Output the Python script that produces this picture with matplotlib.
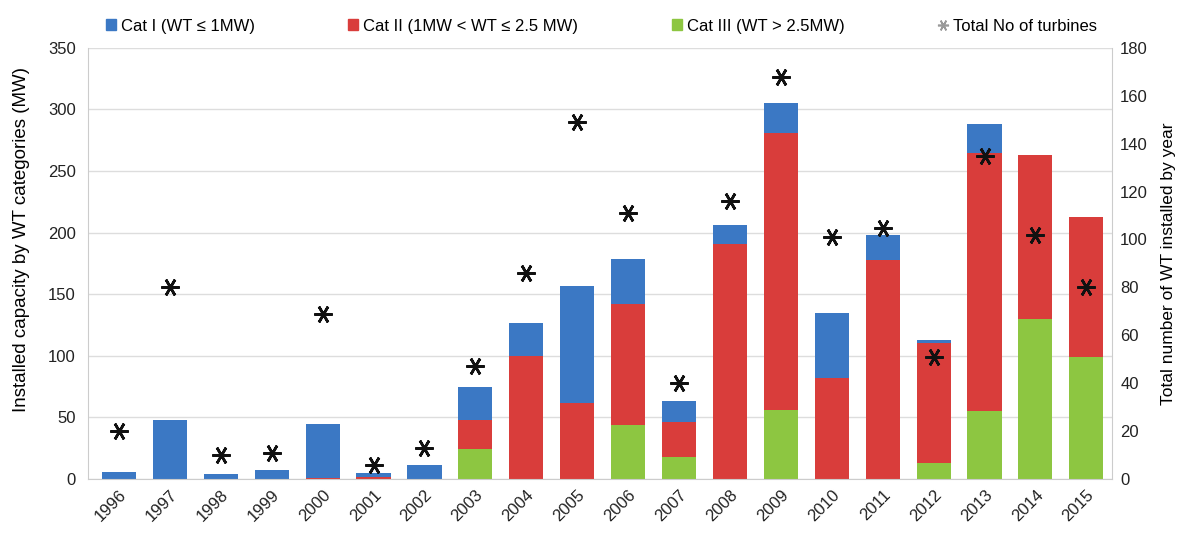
import matplotlib.pyplot as plt
import numpy as np
from matplotlib.patches import Patch
from matplotlib.lines import Line2D

plt.rcParams['font.family'] = ['Liberation Sans', 'DejaVu Sans']

years = ['1996', '1997', '1998', '1999', '2000', '2001', '2002', '2003', '2004', '2005',
         '2006', '2007', '2008', '2009', '2010', '2011', '2012', '2013', '2014', '2015']
# installed capacity (MW) per category
cat3 = [0, 0, 0, 0, 0, 0, 0, 24, 0, 0, 44, 18, 0, 56, 0, 0, 13, 55, 130, 99]
cat2 = [0, 0, 0, 0, 1, 2, 0, 24, 100, 62, 98, 28, 191, 225, 82, 178, 97, 210, 133, 114]
cat1 = [6, 48, 4, 7, 44, 3, 11, 27, 27, 95, 37, 17, 15, 24, 53, 20, 3, 23, 0, 0]
# total number of turbines installed
turbines = [20, 80, 10, 11, 69, 6, 13, 47, 86, 149, 111, 40, 116, 168, 101, 105, 51, 135, 102, 80]

c_blue = '#3b78c4'
c_red = '#d93d3b'
c_green = '#8dc641'
star = (6, 2, 30)

fig = plt.figure(figsize=(11.79, 5.44), dpi=100)
ax = fig.add_axes([0.075, 0.1195, 0.868, 0.7925])
x = np.arange(len(years))
w = 0.67
b3 = np.array(cat3)
b2 = b3 + np.array(cat2)
ax.bar(x, cat3, w, color=c_green, zorder=2)
ax.bar(x, cat2, w, bottom=b3, color=c_red, zorder=2)
ax.bar(x, cat1, w, bottom=b2, color=c_blue, zorder=2)

ax.set_ylim(0, 350)
ax.set_yticks(range(0, 351, 50))
ax.set_xlim(-0.6, 19.5)
ax.set_xticks(x)
ax.set_xticklabels(years, rotation=45, ha='right', rotation_mode='anchor')
ax.grid(axis='y', color='#dddddd', linewidth=1, zorder=0)
ax.set_ylabel('Installed capacity by WT categories (MW)', fontsize=13.5)
ax.yaxis.set_label_coords(-0.057, 0.555)
ax.tick_params(axis='y', labelsize=12, length=0, colors='#222222', pad=9)
ax.tick_params(axis='x', labelsize=12, length=0, colors='#222222', pad=6)
for s in ['top', 'right']:
    ax.spines[s].set_visible(False)
ax.spines['left'].set_color('#cccccc')
ax.spines['bottom'].set_color('#cccccc')

ax2 = ax.twinx()
ax2.set_ylim(0, 180)
ax2.set_yticks(range(0, 181, 20))
ax2.plot(x, turbines, linestyle='none', marker=star, markersize=13,
         markeredgewidth=1.9, color='#111111', zorder=3)
ax2.set_ylabel('Total number of WT installed by year', fontsize=12.5)
ax2.yaxis.set_label_coords(1.048, 0.5)
ax2.tick_params(axis='y', labelsize=12, length=0, colors='#222222', pad=6)
for s in ['top', 'left', 'bottom']:
    ax2.spines[s].set_visible(False)
ax2.spines['right'].set_color('#cccccc')

handles = [Patch(color=c_blue), Patch(color=c_red), Patch(color=c_green),
           Line2D([], [], linestyle='none', marker=star, markersize=8,
                  markeredgewidth=1.2, color='#999999')]
labels = ['Cat I (WT \u2264 1MW)', 'Cat II (1MW < WT \u2264 2.5 MW)',
          'Cat III (WT > 2.5MW)', 'Total No of turbines']
fig.legend(handles, labels, loc='center', bbox_to_anchor=(0.51, 0.952), ncol=4,
           frameon=False, fontsize=12, handlelength=0.6, handleheight=0.6,
           handletextpad=0.3, columnspacing=5.6)

fig.savefig('out.png', dpi=100)
